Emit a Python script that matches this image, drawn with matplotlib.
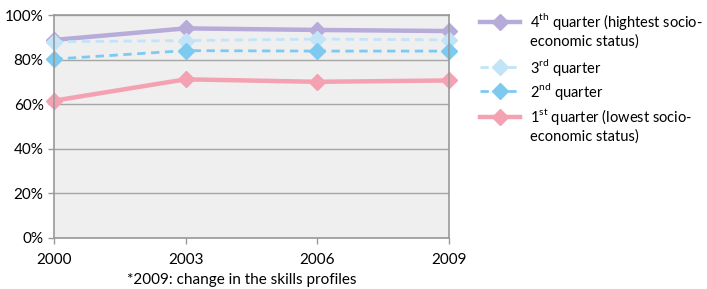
import matplotlib
matplotlib.use("Agg")
import matplotlib.pyplot as plt
from matplotlib.lines import Line2D
from matplotlib.ticker import FuncFormatter

plt.rcParams['font.family'] = ['Lato', 'DejaVu Sans']
plt.rcParams['mathtext.fontset'] = 'custom'
plt.rcParams['mathtext.rm'] = 'Lato'

years = [2000, 2003, 2006, 2009]
q4 = [88.8, 94.0, 93.3, 92.8]
q3 = [88.0, 88.5, 89.2, 88.8]
q2 = [80.2, 84.0, 83.8, 83.8]
q1 = [61.5, 71.1, 70.0, 70.6]

labels = [
    ["4$^{\\mathrm{th}}$ quarter (hightest socio-", "economic status)"],
    ["3$^{\\mathrm{rd}}$ quarter"],
    ["2$^{\\mathrm{nd}}$ quarter"],
    ["1$^{\\mathrm{st}}$ quarter (lowest socio-", "economic status)"],
]

W, H = 707, 289
fig = plt.figure(figsize=(7.07, 2.89), dpi=100)
ax = fig.add_axes([0.0764, 0.178, 0.5586, 0.770])
ax.set_facecolor('#efefef')

styles = [
    dict(color='#b6abd9', lw=3.2, ls='-'),
    dict(color='#c2e4f8', lw=2, ls=(0, (3, 2))),
    dict(color='#7dcaf0', lw=2, ls=(0, (3, 2))),
    dict(color='#f4a1b2', lw=3.2, ls='-'),
]
series = [q4, q3, q2, q1]
for vals, st in zip(series, styles):
    h, = ax.plot(years, vals, marker='D', ms=8, **st)
    h.set_clip_on(False)

ax.set_xlim(2000, 2009)
ax.set_ylim(0, 100)
ax.set_xticks(years)
ax.set_yticks(range(0, 101, 20))
ax.yaxis.set_major_formatter(FuncFormatter(lambda v, p: f"{int(v)}%"))
ax.grid(axis='y', color='#a6a6a6', lw=1)
ax.set_axisbelow(True)
for s in ax.spines.values():
    s.set_color('#999999')
    s.set_linewidth(1.2)
ax.tick_params(colors='#999999', labelcolor='black', labelsize=11, length=4, width=1)
ax.tick_params(axis='x', pad=7)

# legend drawn by hand so the marker sits on the first text line
rows = [22, 67, 91, 117]
for y, lab, st in zip(rows, labels, styles):
    fy = 1 - y / H
    fig.add_artist(Line2D([480 / W, 520 / W], [fy, fy], transform=fig.transFigure, **st))
    fig.add_artist(Line2D([500 / W], [fy], transform=fig.transFigure, marker='D', ms=8,
                          color=st['color'], ls='none'))
    for i, line in enumerate(lab):
        fig.text(530 / W, 1 - (y + 5.5 + 18.5 * i) / H, line, fontsize=10.5, va='baseline')

fig.text(0.342, 0.008, "*2009: change in the skills profiles", ha='center', va='bottom', fontsize=11)

fig.savefig("out.png", dpi=100)
